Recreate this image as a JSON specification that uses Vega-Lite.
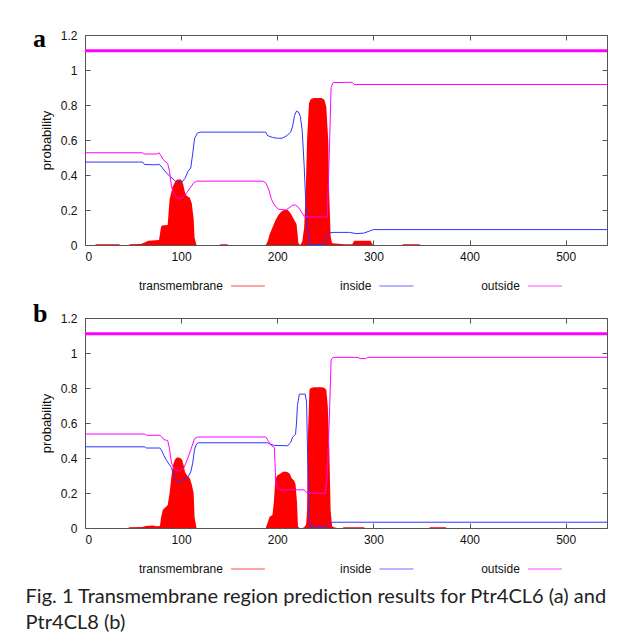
{
  "$schema": "https://vega.github.io/schema/vega-lite/v6.json",
  "padding": {"left": 25, "top": 25, "right": 0, "bottom": 0},
  "background": "white",
  "config": {
    "view": {"stroke": "#555", "strokeWidth": 1},
    "font": "Liberation Sans"
  },
  "datasets": {
    "topology": [{"series": "outside", "start": 0, "end": 543, "probability": 1.11}],
    "legend": [{"series": "transmembrane"}, {"series": "inside"}, {"series": "outside"}],
    "a_tm": [
      {"residue": 0, "probability": 0}, {"residue": 10, "probability": 0}, {"residue": 12, "probability": 0.004}, {"residue": 35, "probability": 0.004}, {"residue": 37, "probability": 0},
      {"residue": 45, "probability": 0}, {"residue": 47, "probability": 0.004}, {"residue": 58, "probability": 0.006}, {"residue": 62, "probability": 0.015}, {"residue": 66, "probability": 0.025},
      {"residue": 77, "probability": 0.028}, {"residue": 79, "probability": 0.1}, {"residue": 80, "probability": 0.112}, {"residue": 86, "probability": 0.115}, {"residue": 88, "probability": 0.26},
      {"residue": 91, "probability": 0.33}, {"residue": 94, "probability": 0.365}, {"residue": 96, "probability": 0.375}, {"residue": 100, "probability": 0.375}, {"residue": 102, "probability": 0.35},
      {"residue": 104, "probability": 0.3}, {"residue": 106, "probability": 0.28}, {"residue": 109, "probability": 0.27}, {"residue": 111, "probability": 0.24}, {"residue": 113, "probability": 0.15},
      {"residue": 114, "probability": 0.04}, {"residue": 116, "probability": 0}, {"residue": 140, "probability": 0}, {"residue": 141, "probability": 0.004}, {"residue": 148, "probability": 0.004},
      {"residue": 149, "probability": 0}, {"residue": 188, "probability": 0}, {"residue": 190, "probability": 0.02}, {"residue": 192, "probability": 0.06}, {"residue": 195, "probability": 0.1},
      {"residue": 198, "probability": 0.14}, {"residue": 201, "probability": 0.17}, {"residue": 204, "probability": 0.19}, {"residue": 207, "probability": 0.2}, {"residue": 211, "probability": 0.2},
      {"residue": 214, "probability": 0.18}, {"residue": 216, "probability": 0.16}, {"residue": 218, "probability": 0.14}, {"residue": 220, "probability": 0.12}, {"residue": 221, "probability": 0.07},
      {"residue": 222, "probability": 0.01}, {"residue": 224, "probability": 0}, {"residue": 226, "probability": 0.02}, {"residue": 228, "probability": 0.1}, {"residue": 229.5, "probability": 0.28},
      {"residue": 231, "probability": 0.6}, {"residue": 233, "probability": 0.81}, {"residue": 235, "probability": 0.835}, {"residue": 238, "probability": 0.84}, {"residue": 246, "probability": 0.84},
      {"residue": 249, "probability": 0.83}, {"residue": 251, "probability": 0.79}, {"residue": 253, "probability": 0.6}, {"residue": 254, "probability": 0.3}, {"residue": 255.5, "probability": 0.05},
      {"residue": 257, "probability": 0.01}, {"residue": 270, "probability": 0.005}, {"residue": 278, "probability": 0.005}, {"residue": 280, "probability": 0.025}, {"residue": 297, "probability": 0.025},
      {"residue": 299, "probability": 0.005}, {"residue": 300, "probability": 0}, {"residue": 330, "probability": 0}, {"residue": 331, "probability": 0.004}, {"residue": 348, "probability": 0.004},
      {"residue": 349, "probability": 0}, {"residue": 543, "probability": 0}
    ],
    "a_io": [
      {"series": "inside", "residue": 0, "probability": 0.474}, {"series": "inside", "residue": 60, "probability": 0.474}, {"series": "inside", "residue": 62, "probability": 0.46},
      {"series": "inside", "residue": 74, "probability": 0.458}, {"series": "inside", "residue": 77, "probability": 0.462}, {"series": "inside", "residue": 80, "probability": 0.445},
      {"series": "inside", "residue": 84, "probability": 0.415}, {"series": "inside", "residue": 89, "probability": 0.39}, {"series": "inside", "residue": 94, "probability": 0.365},
      {"series": "inside", "residue": 96, "probability": 0.36}, {"series": "inside", "residue": 101, "probability": 0.36}, {"series": "inside", "residue": 104, "probability": 0.38},
      {"series": "inside", "residue": 107, "probability": 0.42}, {"series": "inside", "residue": 110, "probability": 0.44}, {"series": "inside", "residue": 112, "probability": 0.52},
      {"series": "inside", "residue": 114, "probability": 0.61}, {"series": "inside", "residue": 117, "probability": 0.64}, {"series": "inside", "residue": 120, "probability": 0.645},
      {"series": "inside", "residue": 188, "probability": 0.645}, {"series": "inside", "residue": 190, "probability": 0.625}, {"series": "inside", "residue": 195, "probability": 0.615},
      {"series": "inside", "residue": 200, "probability": 0.61}, {"series": "inside", "residue": 205, "probability": 0.61}, {"series": "inside", "residue": 210, "probability": 0.625},
      {"series": "inside", "residue": 214, "probability": 0.645}, {"series": "inside", "residue": 216, "probability": 0.68}, {"series": "inside", "residue": 218, "probability": 0.74},
      {"series": "inside", "residue": 220, "probability": 0.765}, {"series": "inside", "residue": 222, "probability": 0.76}, {"series": "inside", "residue": 224, "probability": 0.735},
      {"series": "inside", "residue": 226, "probability": 0.65}, {"series": "inside", "residue": 228, "probability": 0.45}, {"series": "inside", "residue": 230, "probability": 0.2},
      {"series": "inside", "residue": 233, "probability": 0.01}, {"series": "inside", "residue": 235, "probability": 0.003}, {"series": "inside", "residue": 248, "probability": 0.003},
      {"series": "inside", "residue": 251, "probability": 0.05}, {"series": "inside", "residue": 254, "probability": 0.068}, {"series": "inside", "residue": 258, "probability": 0.072},
      {"series": "inside", "residue": 275, "probability": 0.072}, {"series": "inside", "residue": 282, "probability": 0.065}, {"series": "inside", "residue": 290, "probability": 0.068},
      {"series": "inside", "residue": 296, "probability": 0.08}, {"series": "inside", "residue": 300, "probability": 0.088}, {"series": "inside", "residue": 543, "probability": 0.088},
      {"series": "outside", "residue": 0, "probability": 0.527}, {"series": "outside", "residue": 60, "probability": 0.527}, {"series": "outside", "residue": 62, "probability": 0.52},
      {"series": "outside", "residue": 75, "probability": 0.52}, {"series": "outside", "residue": 77, "probability": 0.527}, {"series": "outside", "residue": 79, "probability": 0.51},
      {"series": "outside", "residue": 81, "probability": 0.49}, {"series": "outside", "residue": 84, "probability": 0.475}, {"series": "outside", "residue": 86, "probability": 0.465},
      {"series": "outside", "residue": 88, "probability": 0.42}, {"series": "outside", "residue": 90, "probability": 0.33}, {"series": "outside", "residue": 93, "probability": 0.29},
      {"series": "outside", "residue": 96, "probability": 0.265}, {"series": "outside", "residue": 100, "probability": 0.265}, {"series": "outside", "residue": 103, "probability": 0.28},
      {"series": "outside", "residue": 106, "probability": 0.3}, {"series": "outside", "residue": 110, "probability": 0.33}, {"series": "outside", "residue": 113, "probability": 0.355},
      {"series": "outside", "residue": 116, "probability": 0.365}, {"series": "outside", "residue": 185, "probability": 0.365}, {"series": "outside", "residue": 188, "probability": 0.355},
      {"series": "outside", "residue": 191, "probability": 0.32}, {"series": "outside", "residue": 194, "probability": 0.26}, {"series": "outside", "residue": 197, "probability": 0.23},
      {"series": "outside", "residue": 201, "probability": 0.205}, {"series": "outside", "residue": 209, "probability": 0.2}, {"series": "outside", "residue": 213, "probability": 0.215},
      {"series": "outside", "residue": 216, "probability": 0.228}, {"series": "outside", "residue": 219, "probability": 0.228}, {"series": "outside", "residue": 222, "probability": 0.215},
      {"series": "outside", "residue": 225, "probability": 0.19}, {"series": "outside", "residue": 228, "probability": 0.165}, {"series": "outside", "residue": 232, "probability": 0.16},
      {"series": "outside", "residue": 252, "probability": 0.16}, {"series": "outside", "residue": 254, "probability": 0.5}, {"series": "outside", "residue": 256, "probability": 0.9},
      {"series": "outside", "residue": 258, "probability": 0.928}, {"series": "outside", "residue": 278, "probability": 0.93}, {"series": "outside", "residue": 280, "probability": 0.917},
      {"series": "outside", "residue": 543, "probability": 0.917}
    ],
    "b_tm": [
      {"residue": 0, "probability": 0}, {"residue": 45, "probability": 0}, {"residue": 46, "probability": 0.004}, {"residue": 60, "probability": 0.006}, {"residue": 63, "probability": 0.012},
      {"residue": 70, "probability": 0.014}, {"residue": 75, "probability": 0.01}, {"residue": 78, "probability": 0.012}, {"residue": 79, "probability": 0.057}, {"residue": 81, "probability": 0.105},
      {"residue": 84, "probability": 0.12}, {"residue": 86, "probability": 0.13}, {"residue": 88, "probability": 0.2}, {"residue": 90, "probability": 0.3}, {"residue": 92, "probability": 0.37},
      {"residue": 94, "probability": 0.395}, {"residue": 96, "probability": 0.405}, {"residue": 99, "probability": 0.4}, {"residue": 101, "probability": 0.39}, {"residue": 103, "probability": 0.35},
      {"residue": 104, "probability": 0.32}, {"residue": 107, "probability": 0.295}, {"residue": 109, "probability": 0.285}, {"residue": 111, "probability": 0.25}, {"residue": 113, "probability": 0.2},
      {"residue": 114, "probability": 0.06}, {"residue": 116, "probability": 0}, {"residue": 188, "probability": 0}, {"residue": 190, "probability": 0.03}, {"residue": 192, "probability": 0.065},
      {"residue": 195, "probability": 0.075}, {"residue": 196.5, "probability": 0.15}, {"residue": 198, "probability": 0.28}, {"residue": 200, "probability": 0.3}, {"residue": 203, "probability": 0.31},
      {"residue": 206, "probability": 0.322}, {"residue": 210, "probability": 0.322}, {"residue": 213, "probability": 0.31}, {"residue": 215, "probability": 0.285}, {"residue": 217.5, "probability": 0.27},
      {"residue": 219, "probability": 0.25}, {"residue": 220.5, "probability": 0.15}, {"residue": 221.5, "probability": 0.01}, {"residue": 223, "probability": 0}, {"residue": 226, "probability": 0},
      {"residue": 228, "probability": 0.005}, {"residue": 230, "probability": 0.02}, {"residue": 231, "probability": 0.1}, {"residue": 232, "probability": 0.55}, {"residue": 233.5, "probability": 0.79},
      {"residue": 235, "probability": 0.8}, {"residue": 238, "probability": 0.805}, {"residue": 247, "probability": 0.805}, {"residue": 249, "probability": 0.8}, {"residue": 251, "probability": 0.79},
      {"residue": 252.5, "probability": 0.7}, {"residue": 254, "probability": 0.48}, {"residue": 255.5, "probability": 0.1}, {"residue": 257, "probability": 0.01}, {"residue": 259, "probability": 0.005},
      {"residue": 262, "probability": 0}, {"residue": 268, "probability": 0}, {"residue": 269, "probability": 0.004}, {"residue": 290, "probability": 0.004}, {"residue": 291, "probability": 0},
      {"residue": 358, "probability": 0}, {"residue": 359, "probability": 0.004}, {"residue": 375, "probability": 0.004}, {"residue": 376, "probability": 0}, {"residue": 543, "probability": 0}
    ],
    "b_io": [
      {"series": "inside", "residue": 0, "probability": 0.464}, {"series": "inside", "residue": 62, "probability": 0.464}, {"series": "inside", "residue": 64, "probability": 0.457},
      {"series": "inside", "residue": 78, "probability": 0.457}, {"series": "inside", "residue": 80, "probability": 0.44}, {"series": "inside", "residue": 82, "probability": 0.415},
      {"series": "inside", "residue": 85, "probability": 0.385}, {"series": "inside", "residue": 88, "probability": 0.36}, {"series": "inside", "residue": 90, "probability": 0.345},
      {"series": "inside", "residue": 92, "probability": 0.3}, {"series": "inside", "residue": 94, "probability": 0.275}, {"series": "inside", "residue": 97, "probability": 0.268},
      {"series": "inside", "residue": 100, "probability": 0.27}, {"series": "inside", "residue": 104, "probability": 0.28}, {"series": "inside", "residue": 107, "probability": 0.29},
      {"series": "inside", "residue": 110, "probability": 0.32}, {"series": "inside", "residue": 112, "probability": 0.37}, {"series": "inside", "residue": 114, "probability": 0.45},
      {"series": "inside", "residue": 116, "probability": 0.48}, {"series": "inside", "residue": 118, "probability": 0.487}, {"series": "inside", "residue": 190, "probability": 0.487},
      {"series": "inside", "residue": 193, "probability": 0.478}, {"series": "inside", "residue": 197, "probability": 0.472}, {"series": "inside", "residue": 211, "probability": 0.47},
      {"series": "inside", "residue": 214, "probability": 0.49}, {"series": "inside", "residue": 216, "probability": 0.52}, {"series": "inside", "residue": 219, "probability": 0.535},
      {"series": "inside", "residue": 220, "probability": 0.6}, {"series": "inside", "residue": 221, "probability": 0.7}, {"series": "inside", "residue": 223, "probability": 0.765},
      {"series": "inside", "residue": 229, "probability": 0.765}, {"series": "inside", "residue": 230.5, "probability": 0.72}, {"series": "inside", "residue": 232, "probability": 0.3},
      {"series": "inside", "residue": 233.5, "probability": 0.03}, {"series": "inside", "residue": 235, "probability": 0.003}, {"series": "inside", "residue": 249, "probability": 0.003},
      {"series": "inside", "residue": 252, "probability": 0.012}, {"series": "inside", "residue": 255, "probability": 0.025}, {"series": "inside", "residue": 258, "probability": 0.033},
      {"series": "inside", "residue": 543, "probability": 0.033},
      {"series": "outside", "residue": 0, "probability": 0.537}, {"series": "outside", "residue": 62, "probability": 0.537}, {"series": "outside", "residue": 64, "probability": 0.53},
      {"series": "outside", "residue": 78, "probability": 0.53}, {"series": "outside", "residue": 80, "probability": 0.52}, {"series": "outside", "residue": 82, "probability": 0.505},
      {"series": "outside", "residue": 86, "probability": 0.5}, {"series": "outside", "residue": 88, "probability": 0.45}, {"series": "outside", "residue": 90, "probability": 0.37},
      {"series": "outside", "residue": 93, "probability": 0.335}, {"series": "outside", "residue": 98, "probability": 0.325}, {"series": "outside", "residue": 103, "probability": 0.345},
      {"series": "outside", "residue": 107, "probability": 0.4}, {"series": "outside", "residue": 110, "probability": 0.445}, {"series": "outside", "residue": 112, "probability": 0.48},
      {"series": "outside", "residue": 114, "probability": 0.51}, {"series": "outside", "residue": 117, "probability": 0.52}, {"series": "outside", "residue": 188, "probability": 0.52},
      {"series": "outside", "residue": 191, "probability": 0.495}, {"series": "outside", "residue": 194, "probability": 0.47}, {"series": "outside", "residue": 197, "probability": 0.46},
      {"series": "outside", "residue": 198.5, "probability": 0.26}, {"series": "outside", "residue": 200, "probability": 0.23}, {"series": "outside", "residue": 203, "probability": 0.218},
      {"series": "outside", "residue": 228, "probability": 0.218}, {"series": "outside", "residue": 231, "probability": 0.2}, {"series": "outside", "residue": 250, "probability": 0.198},
      {"series": "outside", "residue": 252, "probability": 0.3}, {"series": "outside", "residue": 254, "probability": 0.6}, {"series": "outside", "residue": 256, "probability": 0.96},
      {"series": "outside", "residue": 258, "probability": 0.975}, {"series": "outside", "residue": 284, "probability": 0.975}, {"series": "outside", "residue": 286, "probability": 0.968},
      {"series": "outside", "residue": 292, "probability": 0.968}, {"series": "outside", "residue": 294, "probability": 0.975}, {"series": "outside", "residue": 543, "probability": 0.975}
    ]
  },
  "title": {
    "text": ["Fig. 1  Transmembrane region prediction results for Ptr4CL6 (a) and", "Ptr4CL8 (b)"],
    "orient": "bottom", "anchor": "start", "frame": "bounds", "offset": 2, "dx": -7,
    "font": "Lato", "fontSize": 20, "fontWeight": "normal", "lineHeight": 26, "color": "#222", "baseline": "top"
  },
  "bounds": "flush",
  "spacing": 16,
  "vconcat": [
    {
      "width": 522, "height": 210,
      "resolve": {"axis": {"x": "independent", "y": "independent"}},
      "layer": [
        {
          "data": {"name": "a_tm"},
          "mark": {"type": "area", "color": "#ff0000"},
          "encoding": {
            "x": {"field": "residue", "type": "quantitative", "scale": {"domain": [0, 543], "nice": false, "zero": false},
              "axis": {"orient": "bottom", "values": [0, 100, 200, 300, 400, 500], "format": "d", "title": null, "grid": false, "domain": false, "tickSize": -5, "tickColor": "#555", "labelPadding": 11, "labelFont": "Liberation Sans", "labelFontSize": 12, "labelColor": "#111"}},
            "y": {"field": "probability", "type": "quantitative", "scale": {"domain": [0, 1.2], "nice": false},
              "axis": {"orient": "left", "values": [0, 0.2, 0.4, 0.6, 0.8, 1, 1.2], "format": "~g", "title": "probability", "titleFont": "Liberation Sans", "titleFontSize": 13, "titleFontWeight": "normal", "titleColor": "#111", "titlePadding": 7, "grid": false, "domain": false, "tickSize": -5, "tickColor": "#555", "labelPadding": 13, "labelFont": "Liberation Sans", "labelFontSize": 12, "labelColor": "#111"}}
          }
        },
        {
          "data": {"name": "a_io"},
          "mark": {"type": "line", "strokeWidth": 1},
          "encoding": {
            "x": {"field": "residue", "type": "quantitative", "scale": {"domain": [0, 543], "nice": false, "zero": false}, "axis": null},
            "y": {"field": "probability", "type": "quantitative", "scale": {"domain": [0, 1.2], "nice": false}, "axis": null},
            "color": {"field": "series", "type": "nominal", "scale": {"domain": ["transmembrane", "inside", "outside"], "range": ["#ff0000", "#3333ff", "#ff00ff"]}, "legend": null}
          }
        },
        {
          "data": {"name": "topology"},
          "mark": {"type": "rule", "color": "#ff00ff", "strokeWidth": 3},
          "encoding": {
            "x": {"field": "start", "type": "quantitative", "scale": {"domain": [0, 543], "nice": false, "zero": false},
              "axis": {"orient": "top", "values": [0, 100, 200, 300, 400, 500], "labels": false, "title": null, "grid": false, "domain": false, "tickSize": -5, "tickColor": "#555"}},
            "x2": {"field": "end"},
            "y": {"field": "probability", "type": "quantitative", "scale": {"domain": [0, 1.2], "nice": false},
              "axis": {"orient": "right", "values": [0, 0.2, 0.4, 0.6, 0.8, 1, 1.2], "labels": false, "title": null, "grid": false, "domain": false, "tickSize": -5, "tickColor": "#555"}}
          }
        },
        {
          "data": {"values": [{"panel": "a"}]},
          "mark": {"type": "text", "align": "left", "baseline": "alphabetic", "font": "Liberation Serif", "fontSize": 26, "fontWeight": "bold", "color": "#000"},
          "encoding": {
            "x": {"datum": -54, "type": "quantitative", "scale": {"domain": [0, 543], "nice": false, "zero": false}, "axis": null},
            "y": {"datum": 1.13, "type": "quantitative", "scale": {"domain": [0, 1.2], "nice": false}, "axis": null},
            "text": {"field": "panel"}
          }
        }
      ]
    },
    {
      "width": 522, "height": 41,
      "view": {"stroke": null},
      "data": {"name": "legend"},
      "layer": [
        {
          "mark": {"type": "tick", "orient": "horizontal", "size": 34, "thickness": 1.2, "yOffset": 4.5},
          "encoding": {
            "x": {"field": "series", "type": "nominal", "sort": null, "scale": {"type": "point", "domain": ["transmembrane", "inside", "outside"], "padding": 0.758, "align": 0.724}, "axis": null},
            "color": {"field": "series", "type": "nominal", "scale": {"domain": ["transmembrane", "inside", "outside"], "range": ["#ff0000", "#3333ff", "#ff00ff"]}, "legend": null}
          }
        },
        {
          "mark": {"type": "text", "align": "right", "baseline": "middle", "dx": -25, "dy": 4.5, "fontSize": 12, "font": "Liberation Sans", "color": "#111"},
          "encoding": {
            "x": {"field": "series", "type": "nominal", "sort": null, "scale": {"type": "point", "domain": ["transmembrane", "inside", "outside"], "padding": 0.758, "align": 0.724}, "axis": null},
            "text": {"field": "series"}
          }
        }
      ]
    },
    {
      "width": 522, "height": 210,
      "resolve": {"axis": {"x": "independent", "y": "independent"}},
      "layer": [
        {
          "data": {"name": "b_tm"},
          "mark": {"type": "area", "color": "#ff0000"},
          "encoding": {
            "x": {"field": "residue", "type": "quantitative", "scale": {"domain": [0, 543], "nice": false, "zero": false},
              "axis": {"orient": "bottom", "values": [0, 100, 200, 300, 400, 500], "format": "d", "title": null, "grid": false, "domain": false, "tickSize": -5, "tickColor": "#555", "labelPadding": 11, "labelFont": "Liberation Sans", "labelFontSize": 12, "labelColor": "#111"}},
            "y": {"field": "probability", "type": "quantitative", "scale": {"domain": [0, 1.2], "nice": false},
              "axis": {"orient": "left", "values": [0, 0.2, 0.4, 0.6, 0.8, 1, 1.2], "format": "~g", "title": "probability", "titleFont": "Liberation Sans", "titleFontSize": 13, "titleFontWeight": "normal", "titleColor": "#111", "titlePadding": 7, "grid": false, "domain": false, "tickSize": -5, "tickColor": "#555", "labelPadding": 13, "labelFont": "Liberation Sans", "labelFontSize": 12, "labelColor": "#111"}}
          }
        },
        {
          "data": {"name": "b_io"},
          "mark": {"type": "line", "strokeWidth": 1},
          "encoding": {
            "x": {"field": "residue", "type": "quantitative", "scale": {"domain": [0, 543], "nice": false, "zero": false}, "axis": null},
            "y": {"field": "probability", "type": "quantitative", "scale": {"domain": [0, 1.2], "nice": false}, "axis": null},
            "color": {"field": "series", "type": "nominal", "scale": {"domain": ["transmembrane", "inside", "outside"], "range": ["#ff0000", "#3333ff", "#ff00ff"]}, "legend": null}
          }
        },
        {
          "data": {"name": "topology"},
          "mark": {"type": "rule", "color": "#ff00ff", "strokeWidth": 3},
          "encoding": {
            "x": {"field": "start", "type": "quantitative", "scale": {"domain": [0, 543], "nice": false, "zero": false},
              "axis": {"orient": "top", "values": [0, 100, 200, 300, 400, 500], "labels": false, "title": null, "grid": false, "domain": false, "tickSize": -5, "tickColor": "#555"}},
            "x2": {"field": "end"},
            "y": {"field": "probability", "type": "quantitative", "scale": {"domain": [0, 1.2], "nice": false},
              "axis": {"orient": "right", "values": [0, 0.2, 0.4, 0.6, 0.8, 1, 1.2], "labels": false, "title": null, "grid": false, "domain": false, "tickSize": -5, "tickColor": "#555"}}
          }
        },
        {
          "data": {"values": [{"panel": "b"}]},
          "mark": {"type": "text", "align": "left", "baseline": "alphabetic", "font": "Liberation Serif", "fontSize": 26, "fontWeight": "bold", "color": "#000"},
          "encoding": {
            "x": {"datum": -54, "type": "quantitative", "scale": {"domain": [0, 543], "nice": false, "zero": false}, "axis": null},
            "y": {"datum": 1.177, "type": "quantitative", "scale": {"domain": [0, 1.2], "nice": false}, "axis": null},
            "text": {"field": "panel"}
          }
        }
      ]
    },
    {
      "width": 522, "height": 41,
      "view": {"stroke": null},
      "data": {"name": "legend"},
      "layer": [
        {
          "mark": {"type": "tick", "orient": "horizontal", "size": 34, "thickness": 1.2, "yOffset": 4.5},
          "encoding": {
            "x": {"field": "series", "type": "nominal", "sort": null, "scale": {"type": "point", "domain": ["transmembrane", "inside", "outside"], "padding": 0.758, "align": 0.724}, "axis": null},
            "color": {"field": "series", "type": "nominal", "scale": {"domain": ["transmembrane", "inside", "outside"], "range": ["#ff0000", "#3333ff", "#ff00ff"]}, "legend": null}
          }
        },
        {
          "mark": {"type": "text", "align": "right", "baseline": "middle", "dx": -25, "dy": 4.5, "fontSize": 12, "font": "Liberation Sans", "color": "#111"},
          "encoding": {
            "x": {"field": "series", "type": "nominal", "sort": null, "scale": {"type": "point", "domain": ["transmembrane", "inside", "outside"], "padding": 0.758, "align": 0.724}, "axis": null},
            "text": {"field": "series"}
          }
        }
      ]
    }
  ]
}
